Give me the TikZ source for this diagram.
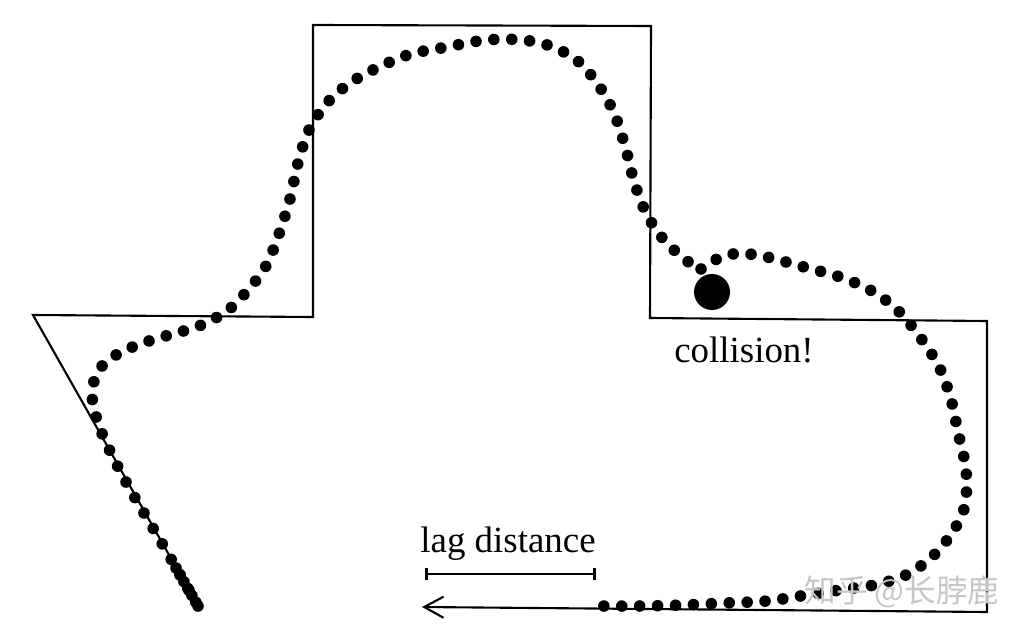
\documentclass[tikz,border=0pt]{standalone}
\usepackage{fontspec}
\setmainfont{Liberation Serif}
\newfontfamily\cjk{Noto Sans CJK SC}
\usetikzlibrary{arrows.meta}

\tikzset{
  wall/.style={line width=1.2pt},
  track/.style={line width=6.6pt, line cap=round, dash pattern=on 0pt off 10.2pt},
  label/.style={font=\fontsize{21}{25}\selectfont, inner sep=0pt, anchor=base}
}

\begin{document}
\begin{tikzpicture}[x=0.02cm, y=-0.02cm]
    \useasboundingbox (0,0) rectangle (1026,634);
    % Paret del circuit, de la punta baixa fins a la fletxa
    \draw[wall, -{Straight Barb[length=11pt,width=12pt,line width=1.2pt]}]
        (198,606) -- (33,315) -- (313,317) -- (313,25) -- (651,26)
        -- (650,318) -- (987,321) -- (987,612) -- (422,607);
    % Trajectoria a punts (dos trams: es doblega on xoca)
    \draw[track] plot[smooth, tension=0.55] coordinates {
        (198,606) (160,540) (126,482) (101,431) (92,395) (99,370)
        (116,355) (140,344) (169,335) (199,326) (227,311) (248,290)
        (266,266) (279,234) (290,199) (298,163) (309,130) (327,103)
        (350,83) (379,67) (411,54) (447,47) (486,40) (523,40) (553,47)
        (579,62) (599,86) (614,113) (625,146) (634,181) (646,213)
        (664,240) (687,261) (701,269)};
    \draw[track] plot[smooth, tension=0.55] coordinates {
        (701,269) (717,259) (733,254) (749,254) (767,257) (804,267)
        (843,278) (877,294) (905,318) (936,361) (950,396) (958,432)
        (966,470) (965,505) (954,530) (935,554) (910,573) (879,584)
        (847,589) (807,595) (767,601) (725,603) (683,605) (641,606)
        (597,606)};
    \draw[track, dash pattern=on 0pt off 4.5pt] (176,568) -- (198,606); % cua atapeida
    % Punt de xoc
    \node[circle, fill, inner sep=0pt, minimum size=0.72cm] (robot) at (712,292) {};
    \node[label] (collision) at (744,362) {collision!};
    % Mesura de la distancia de retard
    \node[label] (lag) at (508,552) {lag distance};
    \coordinate (lagA) at (425,574);
    \coordinate (lagB) at (596,574);
    \draw[line width=1.7pt, {Bar[width=7pt]}-{Bar[width=7pt]}] (lagA) -- (lagB);
    % Marca d'aigua
    \node[font=\cjk\fontsize{18}{20}\selectfont, text=gray!45, inner sep=0pt] (mark) at (902,592) {知乎 @长脖鹿};
\end{tikzpicture}
\end{document}
